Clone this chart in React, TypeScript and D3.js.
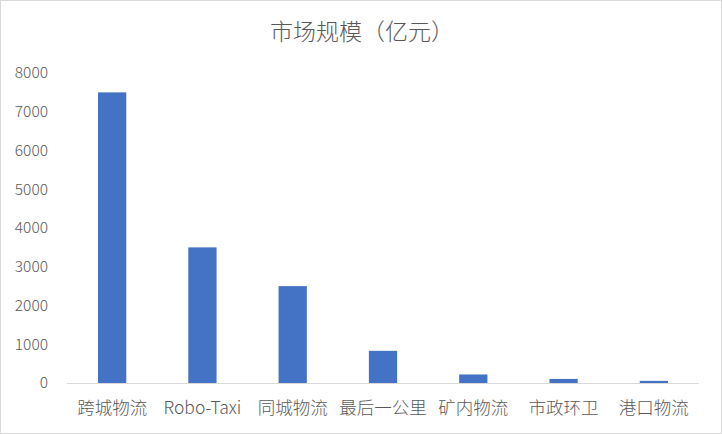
import React from "react";
import * as d3 from "d3";

const categories = ["跨城物流", "Robo-Taxi", "同城物流", "最后一公里", "矿内物流", "市政环卫", "港口物流"];
const values = [7500, 3500, 2500, 830, 220, 105, 55];
const yTicks = [0, 1000, 2000, 3000, 4000, 5000, 6000, 7000, 8000];
const title = "市场规模（亿元）";

const W = 722;
const H = 434;
const margin = { left: 67, right: 23, top: 73, bottom: 51 };
const FONT = "'Noto Sans CJK SC', 'Noto Sans', sans-serif";

export default function App() {
  const x = d3
    .scaleBand<string>()
    .domain(categories)
    .range([margin.left, W - margin.right])
    .paddingInner(0.687)
    .paddingOuter(0.3435);
  const y = d3.scaleLinear().domain([0, 8000]).range([H - margin.bottom, margin.top]);

  return (
    <svg
      width={W}
      height={H}
      style={{ position: "absolute", left: 0, top: 0, background: "#fff" }}
      fontFamily={FONT}
      fontWeight={300}
    >
      <rect x={0.5} y={0.5} width={W - 1} height={H - 1} fill="#fff" stroke="#d9d9d9" />
      <text x={W / 2 + 1} y={32} dy="0.35em" textAnchor="middle" fontSize={23} fill="#595959">
        {title}
      </text>
      {yTicks.map((t) => (
        <text key={t} x={48} y={y(t)} dy="0.35em" textAnchor="end" fontSize={15.5} fill="#595959">
          {t}
        </text>
      ))}
      {categories.map((c, i) => (
        <rect
          key={c}
          x={x(c)!}
          y={y(values[i])}
          width={x.bandwidth()}
          height={y(0) - y(values[i])}
          fill="#4472c4"
        />
      ))}
      <line
        x1={margin.left}
        x2={W - margin.right}
        y1={y(0) + 0.5}
        y2={y(0) + 0.5}
        stroke="#d9d9d9"
        strokeWidth={1}
      />
      {categories.map((c) => (
        <text
          key={c}
          x={x(c)! + x.bandwidth() / 2}
          y={408}
          dy="0.35em"
          textAnchor="middle"
          fontSize={17.5}
          fill="#595959"
        >
          {c}
        </text>
      ))}
    </svg>
  );
}
